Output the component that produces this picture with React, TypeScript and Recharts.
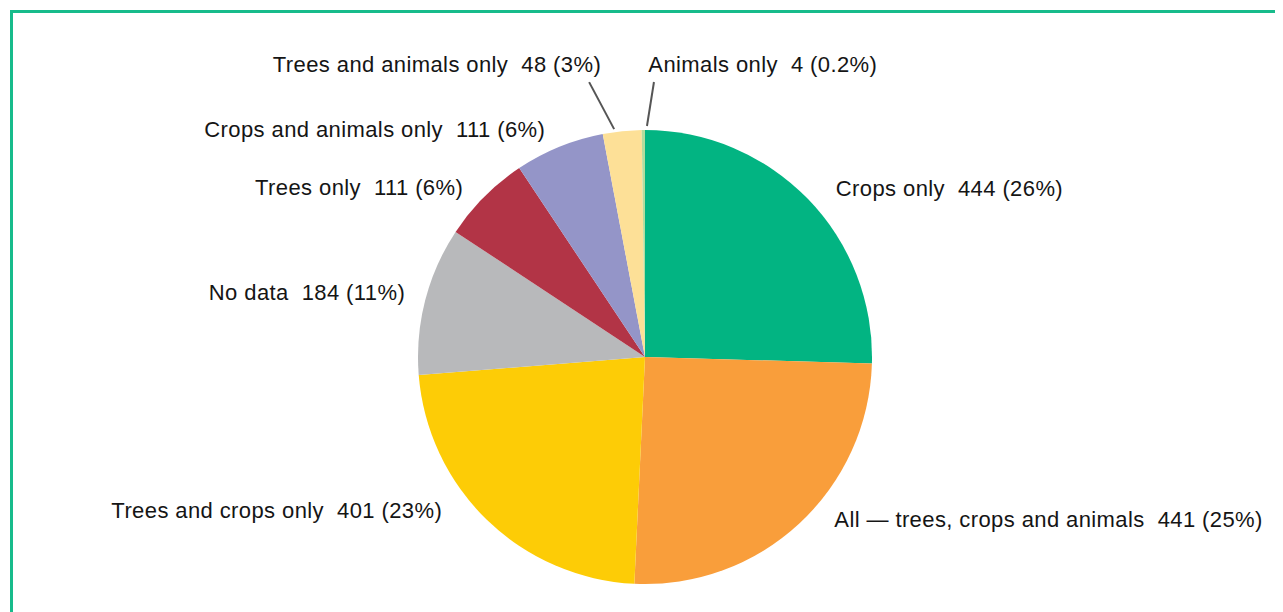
import React from 'react';
import { PieChart, Pie, Cell } from 'recharts';

const categories = [
  'Crops only',
  'All \u2014 trees, crops and animals',
  'Trees and crops only',
  'No data',
  'Trees only',
  'Crops and animals only',
  'Trees and animals only',
  'Animals only',
];
const counts = [444, 441, 401, 184, 111, 111, 48, 4];
const percentLabels = ['26%', '25%', '23%', '11%', '6%', '6%', '3%', '0.2%'];
const colors = ['#02b482', '#f99e3b', '#fdcc06', '#b8b9bb', '#b23446', '#9495c8', '#fde097', '#b3dc9d'];

// label layout: offsets from the slice's outer arc point at its mid angle
const labelLayout = [
  { anchor: 'start', dx: 28, dy: -3 },
  { anchor: 'start', dx: 35, dy: 4 },
  { anchor: 'end', dx: -45, dy: -2 },
  { anchor: 'end', dx: -20, dy: 0 },
  { anchor: 'end', dx: -21, dy: -2 },
  { anchor: 'end', dx: -14, dy: -10 },
  { anchor: 'end', dx: -21, dy: -59, line: [-8, -2, -33, -49] },
  { anchor: 'start', dx: 5, dy: -58, line: [3.6, -4, 10.6, -48] },
];

const data = categories.map((name, i) => ({ name, value: counts[i], pct: percentLabels[i] }));

const RADIAN = Math.PI / 180;

const renderLabel = (props: any) => {
  const { cx, cy, midAngle, outerRadius, index } = props;
  const ax = cx + outerRadius * Math.cos(-midAngle * RADIAN);
  const ay = cy + outerRadius * Math.sin(-midAngle * RADIAN);
  const lay = labelLayout[index];
  const d = data[index];
  return (
    <g key={`lbl-${index}`}>
      {lay.line && (
        <line
          x1={ax + lay.line[0]}
          y1={ay + lay.line[1]}
          x2={ax + lay.line[2]}
          y2={ay + lay.line[3]}
          stroke="#555555"
          strokeWidth={2}
        />
      )}
      <text
        x={ax + lay.dx}
        y={ay + lay.dy}
        textAnchor={lay.anchor as any}
        fill="#151515"
        fontSize={22}
        fontFamily="'Liberation Sans', Arial, Helvetica, sans-serif"
        style={{ whiteSpace: 'pre', letterSpacing: '0.4px' }}
      >
        {`${d.name}  ${d.value} (${d.pct})`}
      </text>
    </g>
  );
};

export default function App() {
  return (
    <div style={{ position: 'relative', width: 1275, height: 604, overflow: 'hidden', background: '#ffffff' }}>
      <div
        style={{
          position: 'absolute',
          left: 2,
          top: 2,
          width: 1400,
          height: 800,
          border: '3px solid #17bb8b',
          boxSizing: 'border-box',
        }}
      />
      <div style={{ position: 'absolute', left: 0, top: 0 }}>
        <PieChart width={1275} height={604} margin={{ top: 0, right: 0, bottom: 0, left: 0 }}>
          <Pie
            data={data}
            dataKey="value"
            nameKey="name"
            cx={637}
            cy={349}
            outerRadius={227}
            startAngle={90}
            endAngle={-270}
            stroke="none"
            isAnimationActive={false}
            labelLine={false}
            label={renderLabel}
          >
            {data.map((d, i) => (
              <Cell key={d.name} fill={colors[i]} />
            ))}
          </Pie>
        </PieChart>
      </div>
    </div>
  );
}
